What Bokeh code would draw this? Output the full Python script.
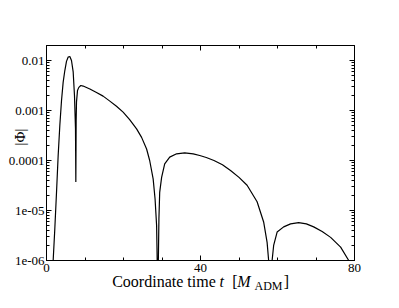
import math
from bokeh.plotting import figure
from bokeh.models import Range1d, FixedTicker, LinearAxis, LogAxis
from bokeh.core.properties import value
from bokeh.embed import file_html
from bokeh.resources import INLINE

# Coordinate time t [M_ADM]
t_vals = [1.6, 1.73, 2.16, 2.6, 3.03, 3.46, 3.9, 4.33, 4.76, 5.19, 5.63, 6.06, 6.49,
          6.93, 7.27, 7.53, 7.62, 7.7, 7.79, 8.05, 8.4, 8.92, 9.52, 11.26, 12.99,
          14.7, 16.45, 18.18, 19.9, 21.6, 23.4, 24.7, 26.0, 26.8, 27.7, 28.2, 28.6,
          28.75, 28.9, 29.05, 29.2, 29.4, 29.9, 30.7, 32.0, 33.8, 35.9, 38.1, 39.8,
          41.5, 43.5, 45.7, 47.8, 50.0, 52.1, 54.7, 56.4, 57.3, 57.7, 58.15, 58.6,
          59.0, 59.9, 61.6, 63.4, 65.5, 67.5, 69.4, 71.6, 73.8, 76.4, 78.5, 78.8]
# |Phi|
phi_vals = [1e-7, 1e-6, 4.3e-6, 2.3e-5, 1.26e-4, 5e-4, 1.58e-3, 3.7e-3, 6.3e-3, 9.6e-3,
            1.17e-2, 1.2e-2, 1.0e-2,
            5.9e-3, 2e-3, 4.3e-4, 3.7e-5, 6e-4, 1.47e-3, 2.5e-3, 2.9e-3, 3.16e-3,
            3.08e-3, 2.7e-3, 2.3e-3,
            1.94e-3, 1.54e-3, 1.22e-3, 9.3e-4, 6.6e-4, 4.3e-4, 2.9e-4, 1.7e-4, 1e-4,
            4.3e-5, 1.7e-5, 5e-6,
            1e-6, 1e-8, 1e-6, 6.8e-6, 2.3e-5, 4.6e-5, 8.6e-5, 1.17e-4, 1.36e-4,
            1.42e-4, 1.36e-4, 1.26e-4,
            1.15e-4, 1.0e-4, 8.2e-5, 6.3e-5, 4.6e-5, 3.2e-5, 1.5e-5, 5.9e-6, 2.3e-6,
            1e-6, 1e-8, 1e-6,
            2e-6, 3.7e-6, 4.7e-6, 5.4e-6, 5.7e-6, 5.4e-6, 4.7e-6, 3.8e-6, 2.9e-6,
            1.85e-6, 1e-6, 7e-7]

x_major = [0, 40, 80]
x_minor = [10, 20, 30, 50, 60, 70]
x_tick_labels = ["0", "40", "80"]
y_major = [1e-6, 1e-5, 1e-4, 1e-3, 1e-2]
y_tick_labels = ["1e-06", "1e-05", "0.0001", "0.001", "0.01"]

x_lo, x_hi = 0, 80
y_lo, y_hi = 1e-6, 10 ** -1.7
y_minor = [m * 10.0 ** e for e in range(-6, -1) for m in range(2, 10) if m * 10.0 ** e < y_hi]

FONT = "Liberation Serif"

p = figure(frame_width=308, frame_height=215,
           x_range=Range1d(x_lo, x_hi), y_range=Range1d(y_lo, y_hi),
           y_axis_type="log", output_backend="svg", toolbar_location=None,
           title=None, min_border_left=46, min_border_top=45,
           min_border_right=37, min_border_bottom=39)
p.background_fill_color = "white"
p.border_fill_color = "white"
p.outline_line_color = "black"
p.outline_line_width = 1
p.xgrid.visible = False
p.ygrid.visible = False


def style_axis(ax, major, minor):
    ax.ticker = FixedTicker(ticks=major, minor_ticks=minor)
    ax.axis_line_color = "black"
    ax.major_tick_line_color = "black"
    ax.minor_tick_line_color = "black"
    ax.major_tick_in = 5
    ax.major_tick_out = 0
    ax.minor_tick_in = 3
    ax.minor_tick_out = 0
    ax.major_label_text_font = FONT
    ax.major_label_text_font_size = "13px"
    ax.major_label_text_color = "black"


xa = p.xaxis[0]
style_axis(xa, x_major, x_minor)
xa.major_label_overrides = dict(zip(x_major, x_tick_labels))
xa.major_label_standoff = 3

ya = p.yaxis[0]
style_axis(ya, y_major, y_minor)
ya.major_label_overrides = dict(zip(y_major, y_tick_labels))
ya.major_label_standoff = 2

top = LinearAxis()
style_axis(top, x_major, x_minor)
top.major_label_text_color = None
top.major_label_text_font_size = "1px"
top.major_label_standoff = 0
p.add_layout(top, "above")

right = LogAxis()
style_axis(right, y_major, y_minor)
right.major_label_text_color = None
right.major_label_text_font_size = "1px"
right.major_label_standoff = 0
p.add_layout(right, "right")

p.line(t_vals, phi_vals, line_color="black", line_width=1.2)

# axis titles, anchored at the frame's bottom-left corner with pixel offsets
def title_text(texts, dx, dy, size, style, angle=0.0, align="left", baseline="alphabetic"):
    n = len(texts)
    p.text(x=[x_lo] * n, y=[y_lo] * n, text=texts, x_offset=dx, y_offset=dy,
           angle=angle, text_font=value(FONT), text_font_size=size,
           text_font_style=style, text_align=align, text_baseline=baseline,
           text_color="black", level="overlay")

title_text(["Coordinate time", "[", "]"], [65.7, 185.7, 237.3], [21.3, 21.3, 21.3],
           "16px", "normal")
title_text(["t", "M"], [173.0, 190.7], [21.3, 21.3], "16px", "italic")
title_text(["ADM"], [208.0], [25.0], "12px", "normal")
title_text(["|Φ|"], [-26.5], [-123.5], "15px", "normal", angle=math.pi / 2,
           align="center", baseline="middle")

open("out.html", "w").write(file_html(p, INLINE))
